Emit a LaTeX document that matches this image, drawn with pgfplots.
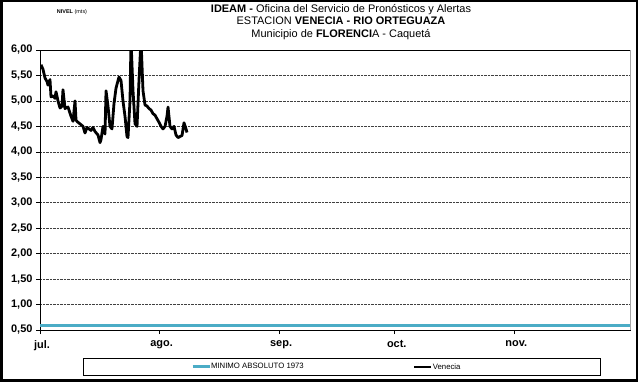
\documentclass[border=0pt]{standalone}
\usepackage{fontspec}
\setmainfont{Liberation Sans}
\usepackage{pgfplots}
\pgfplotsset{compat=1.18}
\definecolor{minimo}{RGB}{75,172,198}

% nivel diario, x en dias desde el 1 de julio
\pgfplotstableread{
dia nivel
0.26 5.71
0.78 5.62
1.30 5.45
1.82 5.38
2.07 5.31
2.59 5.42
2.85 5.08
3.37 5.10
3.89 5.05
4.15 5.18
4.67 5.00
5.19 4.86
5.71 4.90
5.96 5.22
6.48 4.85
7.26 4.88
8.04 4.70
8.56 4.60
9.08 5.00
9.34 4.62
9.85 4.58
10.37 4.55
11.15 4.50
11.67 4.37
12.19 4.48
12.71 4.45
13.23 4.42
13.74 4.48
14.26 4.40
15.04 4.33
15.56 4.18
15.82 4.24
16.34 4.50
16.86 4.35
17.12 5.20
17.63 4.90
18.15 4.50
18.67 4.45
19.19 4.95
19.71 5.25
20.23 5.40
20.49 5.47
21.01 5.40
21.52 5.00
22.04 4.70
22.56 4.30
22.82 4.28
23.34 5.00
23.60 6.20
24.12 5.20
24.64 4.55
25.16 4.50
25.67 5.40
26.19 6.20
26.71 5.20
27.23 4.92
27.75 4.90
28.27 4.85
28.79 4.82
29.30 4.75
29.82 4.72
30.34 4.65
30.86 4.58
31.38 4.50
31.90 4.45
32.42 4.50
32.94 4.70
33.20 4.88
33.71 4.50
34.23 4.45
34.75 4.50
35.27 4.33
35.79 4.28
36.31 4.30
36.83 4.32
37.34 4.57
37.86 4.45
38.12 4.38
}\venecia

\begin{document}
\begin{tikzpicture}
\draw[line width=2.5bp] (1.25bp,1.25bp) rectangle (636.75bp,380.75bp);
\node[align=center, font=\fontsize{11}{12.5}\selectfont] at (341bp,360bp)
  {\textbf{IDEAM -} Oficina del Servicio de Pronósticos y Alertas\\
   ESTACION \textbf{VENECIA - RIO ORTEGUAZA}\\
   Municipio de \textbf{FLORENCI}A - Caquetá};
\node[font=\fontsize{5.5}{6}\selectfont] at (72bp,370bp) {\textbf{NIVEL} (mts)};
\begin{axis}[
  at={(40bp,52bp)}, anchor=south west,
  scale only axis, width=590bp, height=280bp,
  xmin=0, xmax=153, ymin=0.5, ymax=6,
  xtick={0,31,62,92,123},
  xticklabels={jul.,ago.,sep.,oct.,nov.},
  ytick distance=0.5,
  xtick pos=bottom, ytick pos=left,
  tick align=outside, major tick length=4bp,
  tick style={black, line width=0.6bp},
  ymajorgrids, grid style={densely dotted, black!75, line width=0.6bp},
  axis line style={black, line width=0.8bp},
  ticklabel style={font=\bfseries\fontsize{11}{13}\selectfont},
  xticklabel style={yshift=-3bp, xshift=2bp},
  yticklabel style={/pgf/number format/.cd, fixed, fixed zerofill, precision=2, use comma, assume math mode=true},
  legend columns=2,
  legend image code/.code={\draw[#1] (0bp,0bp) -- (17bp,0bp);},
  legend style={at={(0.511,-0.132)}, anchor=center, draw=black,
    inner xsep=108bp, inner ysep=5bp,
    font=\fontsize{7.8}{9}\selectfont,
    nodes={inner sep=0pt},
    /tikz/every even column/.append style={column sep=0pt}},
  after end axis/.code={\draw[gray!70, line width=0.8bp] (rel axis cs:1,0) -- (rel axis cs:1,1);},
]
\addplot[minimo, line width=3bp] coordinates {(0,0.58) (153,0.58)};
\addplot[black, line width=2.8bp, line join=round] table[x=dia, y=nivel] {\venecia};
\legend{\makebox[202bp][l]{MINIMO ABSOLUTO 1973}, \makebox[59bp][l]{Venecia}}
\end{axis}
\end{tikzpicture}
\end{document}
